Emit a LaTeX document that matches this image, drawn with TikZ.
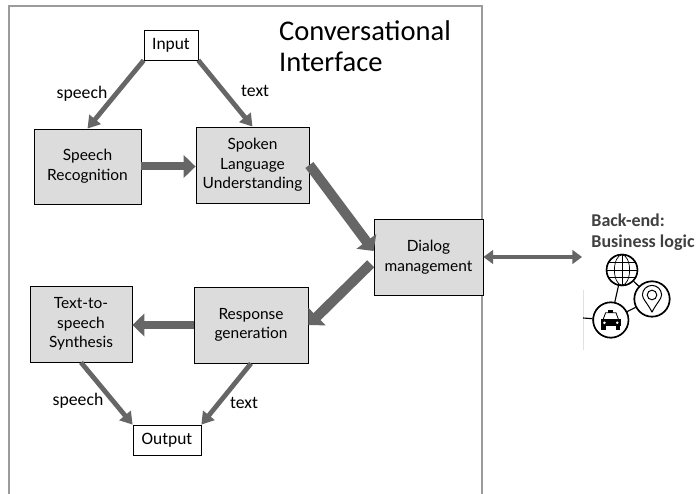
\documentclass[tikz,border=0pt]{standalone}
\usepackage{fontspec}
\setmainfont{Carlito}
\newfontfamily\boxfont{Lato}
\usetikzlibrary{arrows.meta}
\definecolor{arrowgray}{RGB}{102,102,102}
\definecolor{boxgray}{RGB}{220,220,220}
\definecolor{framegray}{RGB}{155,155,155}
\definecolor{logicgray}{RGB}{64,64,64}
\tikzset{
  blockbox/.style={draw=black,line width=0.6pt,fill=boxgray,align=center,inner sep=0pt,font=\boxfont\fontsize{11}{14}\selectfont},
  iobox/.style={draw=black,line width=0.5pt,fill=white,inner sep=0pt,font=\fontsize{12.4}{14}\selectfont},
  flowlabel/.style={font=\fontsize{12.6}{14}\selectfont,inner sep=0pt},
  thinarrow/.style={draw=arrowgray,line width=1.2mm,-{Triangle[length=3mm,width=3.6mm]}},
  thickarrow/.style={draw=arrowgray,line width=2mm,-{Triangle[length=3mm,width=5.6mm]}},
  heavyarrow/.style={draw=arrowgray,line width=2.5mm,-{Triangle[length=3mm,width=6mm]}},
  icon/.style={circle,draw=black,line width=1.1pt,fill=white,inner sep=0pt},
}
\begin{document}
\begin{tikzpicture}
\useasboundingbox (0,0) rectangle (17.425,12.35);
% frame of the interface, open at the bottom
\draw[framegray,line width=0.8pt] (0.225,0) -- (0.225,12.2) -- (12.05,12.2) -- (12.05,0);
\node[anchor=west,align=left,inner sep=0pt,font=\fontsize{20.3}{22}\selectfont] (title) at (6.97,11.2) {Conversational\\Interface};

\node[iobox,minimum width=1.35cm,minimum height=0.75cm] (input) at (4.275,11.225) {Input};
\node[blockbox,minimum width=2.675cm,minimum height=1.875cm] (srec) at (2.1875,8.1875) {Speech\\Recognition};
\node[blockbox,minimum width=2.825cm,minimum height=1.9cm] (slu) at (6.3125,8.225) {Spoken\\Language\\Understanding};
\node[blockbox,minimum width=2.725cm,minimum height=1.9cm] (dialog) at (10.7125,5.925) {Dialog\\management};
\node[blockbox,minimum width=2.85cm,minimum height=1.9cm] (resp) at (6.275,4.225) {Response\\generation};
\node[blockbox,minimum width=2.55cm,minimum height=1.9cm] (tts) at (2.025,4.25) {Text-to-\\speech\\Synthesis};
\node[iobox,minimum width=1.7cm,minimum height=0.75cm] (output) at (4.175,1.35) {Output};

\draw[thinarrow] (input.south west) -- (srec.north);
\draw[thinarrow] (input.south east) -- (slu.north);
\draw[thickarrow] (srec.east) -- (srec.east -| slu.west);
\draw[heavyarrow] (slu.east) -- ([yshift=1.5mm]dialog.west);
\draw[heavyarrow,shorten <=1mm] ([yshift=-1mm]dialog.west) -- (resp.east);
\draw[thickarrow] (resp.west) -- (resp.west -| tts.east);
\draw[thinarrow] (tts.south) -- (output.north west);
\draw[thinarrow] (resp.south) -- (output.north east);

\node[flowlabel] (lspeechin) at (2.05,10.0) {speech};
\node[flowlabel] (ltextin) at (6.38,10.07) {text};
\node[flowlabel] (lspeechout) at (1.95,2.32) {speech};
\node[flowlabel] (ltextout) at (6.1,2.27) {text};

% back-end
\coordinate (backend) at (14.55,5.925);
\draw[draw=arrowgray,line width=0.9mm,{Triangle[length=2.4mm,width=3.4mm]}-{Triangle[length=2.4mm,width=3.4mm]}] (dialog.east) -- (backend);
\node[anchor=west,align=left,inner sep=0pt,text=logicgray,font=\bfseries\fontsize{12.8}{15}\selectfont] (logic) at (14.78,6.55) {Back-end:\\Business logic};

\draw[black!12,line width=0.4pt] (14.575,3.6) -- (14.575,5.1);
\coordinate (stub) at (14.575,4.4);
\node[icon,minimum size=7.7mm] (globe) at (15.55,5.6) {};
\node[icon,minimum size=8.8mm] (pin) at (16.3,4.875) {};
\node[icon,minimum size=8.8mm] (taxi) at (15.27,4.35) {};
\draw[line width=0.8pt] (globe) -- (pin);
\draw[line width=0.8pt] (globe) -- (taxi);
\draw[line width=0.8pt] (taxi) -- (pin);
\draw[line width=0.8pt] (stub) -- (taxi);
\node[icon,minimum size=7.7mm] (globetop) at (globe) {};
\node[icon,minimum size=8.8mm] (pintop) at (pin) {};
\node[icon,minimum size=8.8mm] (taxitop) at (taxi) {};

% globe
\begin{scope}[shift={(globe)},line width=0.5pt]
\draw (0,-0.38) -- (0,0.38);
\draw (0,0) ellipse (0.19 and 0.38);
\draw (-0.38,0) -- (0.38,0);
\draw (-0.33,0.18) -- (0.33,0.18);
\draw (-0.33,-0.18) -- (0.33,-0.18);
\end{scope}
% pin
\begin{scope}[shift={(pin)},line width=0.7pt]
\draw (0,-0.33) .. controls (-0.1,-0.12) and (-0.24,0) .. (-0.24,0.1)
  arc[start angle=180,end angle=0,radius=0.24]
  .. controls (0.24,0) and (0.1,-0.12) .. (0,-0.33);
\draw (0,0.1) circle (0.12);
\end{scope}
% taxi
\begin{scope}[shift={(taxi)},line width=0.6pt]
\fill (-0.25,-0.14) rectangle (0.25,0.02);
\fill (-0.24,-0.24) rectangle (-0.13,-0.14);
\fill (0.13,-0.24) rectangle (0.24,-0.14);
\draw (-0.19,0.02) -- (-0.13,0.18) -- (0.13,0.18) -- (0.19,0.02);
\fill (-0.06,0.18) rectangle (0.06,0.25);
\fill[white] (-0.16,-0.07) circle (0.035) (0.16,-0.07) circle (0.035);
\end{scope}
\end{tikzpicture}
\end{document}
